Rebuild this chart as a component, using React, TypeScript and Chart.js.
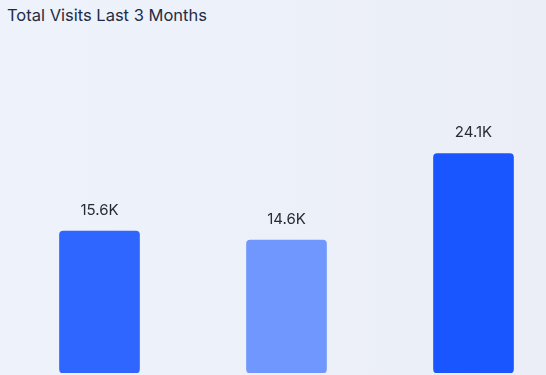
import React, { useEffect, useRef } from "react";
import { Chart, registerables } from "chart.js";

Chart.register(...registerables);

const TITLE = "Total Visits Last 3 Months";
const categories = ["Month 1", "Month 2", "Month 3"];
const visits = [15600, 14600, 24100];
const barColors = ["#2f66ff", "#7097fd", "#1a56ff"];
const valueLabels = ["15.6K", "14.6K", "24.1K"];

const labelPlugin = {
  id: "valueLabels",
  afterDatasetsDraw(chart: any) {
    const ctx = chart.ctx;
    const meta = chart.getDatasetMeta(0);
    ctx.save();
    ctx.font = "400 15px Inter, 'DejaVu Sans', sans-serif";
    ctx.fillStyle = "#262b35";
    ctx.textAlign = "center";
    ctx.textBaseline = "middle";
    meta.data.forEach((bar: any, i: number) => {
      ctx.fillText(valueLabels[i], bar.x, bar.y - 21);
    });
    ctx.restore();
  },
};

export default function App() {
  const ref = useRef<HTMLCanvasElement>(null);
  useEffect(() => {
    document.body.style.margin = "0";
    const chart = new Chart(ref.current as HTMLCanvasElement, {
      type: "bar",
      data: {
        labels: categories,
        datasets: [
          {
            data: visits,
            backgroundColor: barColors,
            borderRadius: 4,
            borderSkipped: false,
            barThickness: 80,
          },
        ],
      },
      options: {
        animation: false,
        responsive: false,
        maintainAspectRatio: false,
        layout: { padding: { left: 6, right: 0, top: 54.5, bottom: 2 } },
        plugins: { legend: { display: false }, tooltip: { enabled: false }, title: { display: false } },
        scales: {
          x: { display: false, grid: { display: false } },
          y: { display: false, min: 0, max: 35000, grid: { display: false } },
        },
      },
      plugins: [labelPlugin],
    });
    return () => chart.destroy();
  }, []);
  return (
    <div
      style={{
        position: "relative",
        width: 546,
        height: 375,
        overflow: "hidden",
        background: "linear-gradient(90deg, #edf2fb 0%, #ecf0f9 60%, #ebeef6 100%)",
      }}
    >
      <div
        style={{
          position: "absolute",
          left: 7,
          top: 5,
          fontFamily: "Inter, 'DejaVu Sans', sans-serif",
          fontSize: 16.5,
          lineHeight: "20px",
          color: "#1f2c44",
          whiteSpace: "nowrap",
        }}
      >
        {TITLE}
      </div>
      <canvas ref={ref} width={567} height={375} style={{ position: "absolute", left: 0, top: 0, width: 567, height: 375 }} />
    </div>
  );
}
